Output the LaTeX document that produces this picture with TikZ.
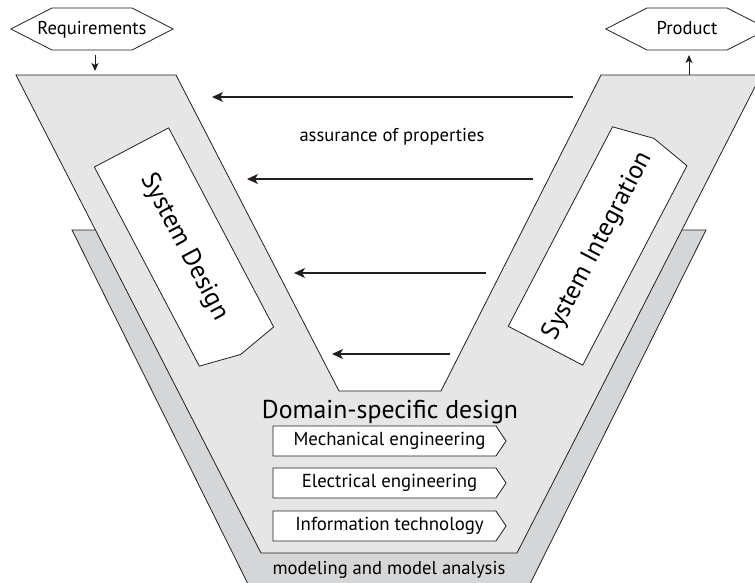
\documentclass[tikz,border=0pt]{standalone}
\usepackage{fontspec}
\setmainfont{PT Sans}
\usetikzlibrary{shapes.symbols,arrows.meta}
\definecolor{armgray}{HTML}{E6E6E6}
\definecolor{basegray}{HTML}{D5D6D8}
\definecolor{linegray}{HTML}{231F20}

\begin{document}
\begin{tikzpicture}[x=1pt,y=-1pt,
  outline/.style={draw=linegray,line width=0.8pt},
  hexa/.style={outline,fill=white,signal,signal to=east and west,signal pointer angle=54,
    minimum width=162pt,text height=26pt,text depth=16pt,inner sep=0pt,
    font=\fontsize{18.6}{20}\selectfont},
  phase/.style={outline,fill=white,signal,signal to=east,signal pointer angle=156,
    minimum width=234pt,minimum height=84pt,inner sep=0pt,font=\fontsize{25.8}{28}\selectfont},
  fieldbox/.style={outline,fill=white,signal,signal to=east,signal pointer angle=112,
    minimum width=233pt,minimum height=30pt,inner sep=0pt,font=\fontsize{18.8}{20}\selectfont,
    execute at begin node={\hspace*{10pt}}},
  flow/.style={line width=1.1pt,draw=linegray,-{Stealth[length=11pt,width=10pt,inset=3pt]}},
  io/.style={line width=1pt,draw=linegray,-{Stealth[length=8pt,width=7pt,inset=2pt]}}]
\useasboundingbox (0,0) rectangle (755,582);

% modeling layer behind the V
\draw[outline,fill=basegray] (72,230) -- (120,230) -- (275,540) -- (505,540) -- (660,230)
  -- (706,230) -- (526,592) -- (252,592) -- cycle;
% the V
\draw[outline,fill=armgray] (16,75) -- (176,75) -- (339,391) -- (441,391) -- (601,75)
  -- (761,75) -- (517,553) -- (261,553) -- cycle;

\node (req) at (92,29) [hexa] {\makebox[80pt]{Requirements}};
\node (prod) at (687,29) [hexa] {\makebox[80pt]{Product}};
\coordinate (reqout) at (95,55);
\coordinate (reqin) at (95,71);
\coordinate (prodout) at (689,75);
\coordinate (prodin) at (689,55);
\draw[io] (reqout) -- (reqin);
\draw[io] (prodout) -- (prodin);

% assurance arrows
\foreach \y/\xa/\xb [count=\i] in {97/573/212, 179/533/247, 273/486/294, 354/450/332}{
  \coordinate (src\i) at (\xa,\y);
  \coordinate (dst\i) at (\xb,\y);
  \draw[flow] (src\i) -- (dst\i);
}
\node (assure) at (392,141.7) [anchor=base,font=\fontsize{18.6}{20}\selectfont] {assurance of properties};

\node (design) at (184,247) [phase,rotate=-62.2] {System Design};
\node (integ) at (597.6,246) [phase,rotate=62.4] {System Integration};

\node (dsd) at (390,418) [anchor=base,font=\fontsize{25.8}{28}\selectfont] {Domain-specific design};
\node (mech) at (384.5,441) [fieldbox] {Mechanical engineering};
\node (elec) at (384.5,483) [fieldbox] {Electrical engineering};
\node (info) at (384.5,526) [fieldbox] {Information technology};

\node (model) at (389,574) [anchor=base,font=\fontsize{18.6}{20}\selectfont] {modeling and model analysis};
\end{tikzpicture}
\end{document}
